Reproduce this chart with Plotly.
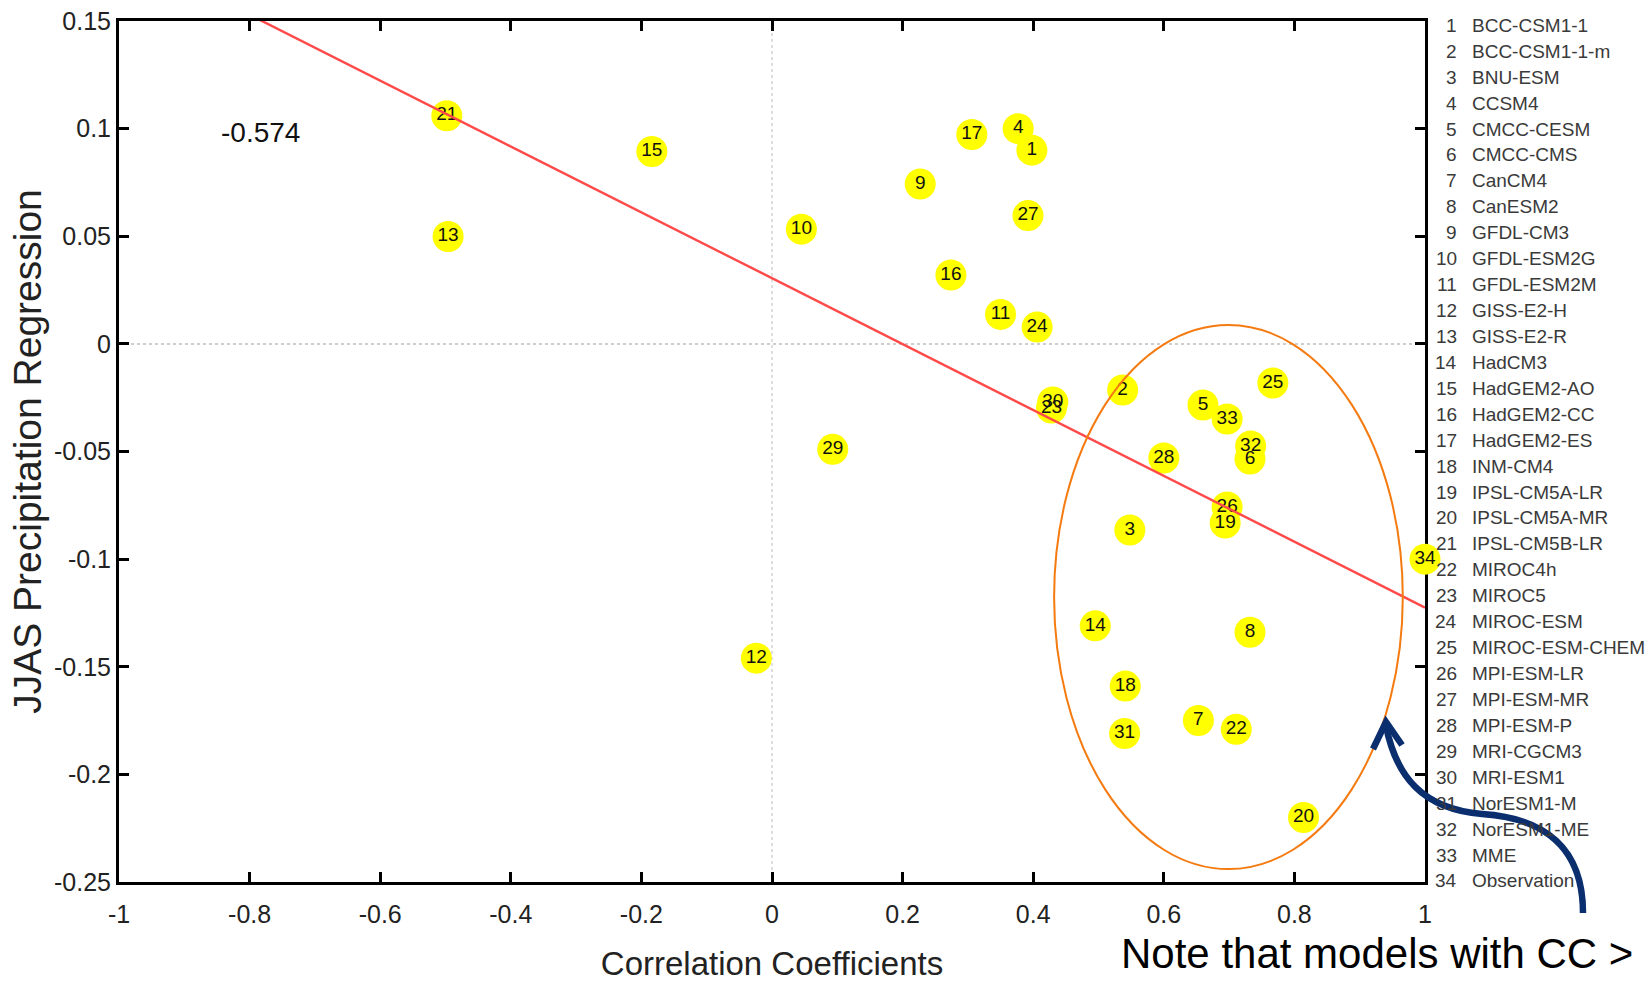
import plotly.graph_objects as go

# ---- data -------------------------------------------------------------
model_ids = list(range(1, 35))
model_names = [
    "BCC-CSM1-1", "BCC-CSM1-1-m", "BNU-ESM", "CCSM4", "CMCC-CESM", "CMCC-CMS",
    "CanCM4", "CanESM2", "GFDL-CM3", "GFDL-ESM2G", "GFDL-ESM2M", "GISS-E2-H",
    "GISS-E2-R", "HadCM3", "HadGEM2-AO", "HadGEM2-CC", "HadGEM2-ES", "INM-CM4",
    "IPSL-CM5A-LR", "IPSL-CM5A-MR", "IPSL-CM5B-LR", "MIROC4h", "MIROC5",
    "MIROC-ESM", "MIROC-ESM-CHEM", "MPI-ESM-LR", "MPI-ESM-MR", "MPI-ESM-P",
    "MRI-CGCM3", "MRI-ESM1", "NorESM1-M", "NorESM1-ME", "MME", "Observation",
]
# correlation coefficient of each model (x) and JJAS precipitation regression (y)
corr_coef = [
    0.398, 0.537, 0.548, 0.377, 0.660, 0.732, 0.653, 0.732, 0.227, 0.045,
    0.350, -0.024, -0.496, 0.495, -0.184, 0.274, 0.306, 0.541, 0.694, 0.814,
    -0.498, 0.711, 0.428, 0.406, 0.767, 0.697, 0.392, 0.600, 0.093, 0.430,
    0.540, 0.733, 0.697, 1.000,
]
precip_reg = [
    0.090, -0.0214, -0.0865, 0.100, -0.0284, -0.0535, -0.175, -0.134, 0.0743, 0.0533,
    0.0137, -0.146, 0.0499, -0.131, 0.0894, 0.032, 0.0973, -0.159, -0.0832, -0.220,
    0.106, -0.179, -0.0298, 0.0078, -0.0182, -0.0758, 0.0596, -0.053, -0.049, -0.027,
    -0.181, -0.0474, -0.0349, -0.100,
]

# least-squares fit line and its correlation
fit_slope = -0.153
fit_intercept = 0.0305
corr_label = "-0.574"

x_ticks = [-1, -0.8, -0.6, -0.4, -0.2, 0, 0.2, 0.4, 0.6, 0.8, 1]
x_tick_text = ["-1", "-0.8", "-0.6", "-0.4", "-0.2", "0", "0.2", "0.4", "0.6", "0.8", "1"]
y_ticks = [-0.25, -0.2, -0.15, -0.1, -0.05, 0, 0.05, 0.1, 0.15]
y_tick_text = ["-0.25", "-0.2", "-0.15", "-0.1", "-0.05", "0", "0.05", "0.1", "0.15"]

# highlighted group of models with high correlation
group_x = (0.432, 0.966)
group_y = (-0.244, 0.0088)

note_text = "Note that models with CC >"

# ---- layout geometry (pixels) -------------------------------------------
W, H = 1650, 982
ML, MR, MT, MB = 119, 225, 21, 100
PW, PH = W - ML - MR, H - MT - MB


def px(X):
    return (X - ML) / PW


def py(Y):
    return (H - MB - Y) / PH


FONT = "Liberation Sans, Arial, sans-serif"

fig = go.Figure()

# model markers with their numbers
fig.add_trace(go.Scatter(
    x=corr_coef, y=precip_reg,
    mode="markers+text",
    text=[str(i) for i in model_ids],
    textposition="middle center",
    textfont=dict(family=FONT, size=19, color="#111111"),
    marker=dict(size=31, color="#FFFF00", line=dict(width=0)),
    cliponaxis=False,
    hovertext=model_names,
    showlegend=False,
))

# regression line
fit_x = [x_ticks[0], x_ticks[-1]]
fit_y = [fit_intercept + fit_slope * v for v in fit_x]
fig.add_trace(go.Scatter(
    x=fit_x, y=fit_y, mode="lines",
    line=dict(color="#FF4A4A", width=2.4),
    showlegend=False, hoverinfo="skip",
))

shapes = [
    # dotted zero lines
    dict(type="line", xref="x", yref="y domain", x0=0, x1=0, y0=0, y1=1,
         line=dict(color="#BDBDBD", width=1, dash="dot"), layer="below"),
    dict(type="line", xref="x domain", yref="y", x0=0, x1=1, y0=0, y1=0,
         line=dict(color="#BDBDBD", width=1.5, dash="dot"), layer="below"),
    # ellipse around the high-correlation group
    dict(type="circle", xref="x", yref="y",
         x0=group_x[0], x1=group_x[1], y0=group_y[0], y1=group_y[1],
         line=dict(color="#F57A10", width=2)),
]

# curved pointer from the note up to the ellipse
curve = (
    f"M {px(1583)} {py(913)} "
    f"C {px(1583)} {py(848)}, {px(1545)} {py(818)}, {px(1482)} {py(814)} "
    f"C {px(1422)} {py(809)}, {px(1396)} {py(776)}, {px(1386)} {py(726)}"
)
head = f"M {px(1373)} {py(749)} L {px(1386)} {py(722)} L {px(1402)} {py(745)}"
for p in (curve, head):
    shapes.append(dict(type="path", xref="paper", yref="paper", path=p,
                       line=dict(color="#0B2E6E", width=6.5)))

annotations = [
    dict(x=-0.784, y=0.098, xref="x", yref="y", text=corr_label, showarrow=False,
         font=dict(family=FONT, size=28, color="#111111")),
    dict(x=px(1119), y=py(953), xref="paper", yref="paper", text=note_text,
         xanchor="left", yanchor="middle", showarrow=False,
         font=dict(family=FONT, size=42, color="#000000")),
]

# numbered list of model names to the right of the plot
for i, (num, name) in enumerate(zip(model_ids, model_names)):
    yy = py(25.3 + i * 25.93)
    annotations.append(dict(x=px(1459), y=yy, xref="paper", yref="paper",
                            text=str(num), xanchor="right", yanchor="middle",
                            showarrow=False,
                            font=dict(family=FONT, size=19, color="#3a3a3a")))
    annotations.append(dict(x=px(1470), y=yy, xref="paper", yref="paper",
                            text=name, xanchor="left", yanchor="middle",
                            showarrow=False,
                            font=dict(family=FONT, size=19, color="#3a3a3a")))

axis_common = dict(
    showgrid=False, zeroline=False, showline=True, linewidth=3,
    linecolor="#000000", mirror="ticks", ticks="inside", ticklen=10,
    tickwidth=2.5, tickcolor="#000000", layer="below traces",
    tickfont=dict(family=FONT, size=25, color="#222222"),
)

fig.update_layout(
    width=W, height=H,
    margin=dict(l=ML, r=MR, t=MT, b=MB, autoexpand=False),
    paper_bgcolor="#FFFFFF", plot_bgcolor="#FFFFFF",
    xaxis=dict(range=[-1, 1], tickvals=x_ticks, ticktext=x_tick_text,
               ticklabelstandoff=8,
               title=dict(text="Correlation Coefficients", standoff=26,
                          font=dict(family=FONT, size=33, color="#222222")),
               **axis_common),
    yaxis=dict(range=[-0.25, 0.15], tickvals=y_ticks, ticktext=y_tick_text,
               title=dict(text="JJAS Precipitation Regression", standoff=1,
                          font=dict(family=FONT, size=39, color="#222222")),
               **axis_common),
    shapes=shapes,
    annotations=annotations,
    showlegend=False,
)

fig.write_html("out.html")
